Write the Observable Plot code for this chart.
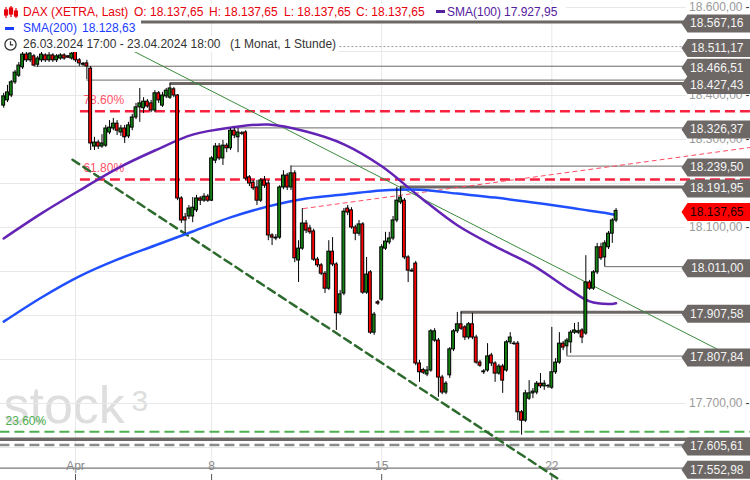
<!DOCTYPE html>
<html><head><meta charset="utf-8">
<script src="https://cdn.jsdelivr.net/npm/d3@7"></script>
<script src="https://cdn.jsdelivr.net/npm/@observablehq/plot@0.6"></script>
<style>
body{margin:0;background:#fff;font-family:"Liberation Sans",Arial,sans-serif;}
#wrap{position:relative;width:750px;height:480px;overflow:hidden;background:#fff}
.hd{position:absolute;left:0;background:#fff;}
.hd span{position:absolute;top:0;font-size:12px;line-height:16px;white-space:nowrap}
.hd svg{position:absolute}
</style></head><body>
<div id="wrap">
  <div id="chart"></div>
  <div class="hd" style="top:4px;width:566px;height:16px">
    <svg style="left:4px;top:1px" width="14" height="14"><g stroke="#e8000b" stroke-width="1.2" fill="#e8000b"><line x1="2" y1="2" x2="2" y2="13"/><rect x="0.5" y="5" width="3" height="5"/><line x1="7" y1="1" x2="7" y2="12"/><rect x="5.5" y="3" width="3" height="6"/><line x1="12" y1="3" x2="12" y2="13"/><rect x="10.5" y="6" width="3" height="5"/></g></svg>
    <span style="left:23px;color:#e8000b">DAX (XETRA, Last)</span>
    <span style="left:134px;color:#e8000b">O: 18.137,65</span>
    <span style="left:209px;color:#e8000b">H: 18.137,65</span>
    <span style="left:284px;color:#e8000b">L: 18.137,65</span>
    <span style="left:356px;color:#e8000b">C: 18.137,65</span>
    <svg style="left:436px;top:6px" width="9" height="4"><rect width="9" height="3" fill="#55209e"/></svg>
    <span style="left:447px;color:#55209e">SMA(100)</span>
    <span style="left:504px;color:#55209e">17.927,95</span>
  </div>
  <div class="hd" style="top:20px;width:141px;height:16px">
    <svg style="left:5px;top:7px" width="9" height="4"><rect width="9" height="3" fill="#1a3cff"/></svg>
    <span style="left:23px;color:#1a3cff">SMA(200)</span>
    <span style="left:82px;color:#1a3cff">18.128,63</span>
  </div>
  <div class="hd" style="top:36px;width:338px;height:16px">
    <svg style="left:3px;top:1px" width="15" height="15"><circle cx="7.5" cy="7.5" r="5.6" fill="none" stroke="#333" stroke-width="1.3"/><path d="M7.5 4.2V7.8H10.2" fill="none" stroke="#333" stroke-width="1.2"/></svg>
    <span style="left:23px;color:#333">26.03.2024 17:00 - 23.04.2024 18:00</span>
    <span style="left:230px;color:#333">(1 Monat, 1 Stunde)</span>
  </div>
</div>
<script>
// ---------- data (hourly candles, index 0 = 26.03.2024 17:00) ----------
const opens = [18377,18389,18400,18430,18445,18464,18493,18480,18489,18470,18480,18491,18480,18491,18480,18484,18491,18489,18484,18502,
18480,18470,18473,18461,18284,18293,18284,18286,18316,18325,18336,18316,18325,18307,18327,18350,18373,18371,18386,18382,
18366,18405,18377,18398,18395,18414,18400,18166,18123,18125,18125,18139,18166,18161,18170,18161,18252,18284,18257,18286,
18280,18320,18305,18314,18316,18214,18202,18191,18161,18207,18200,18082,18077,18077,18191,18218,18191,18223,18025,18052,
18109,18098,18091,18027,18014,17995,17961,18045,18016,17905,17950,18143,18139,18100,18086,18107,17952,17998,17861,17930,
17936,18052,18066,18075,18116,18157,18161,18032,18002,18018,17791,17776,17766,17775,17843,17843,17759,17725,17764,17823,
17864,17880,17873,17850,17880,17850,17793,17771,17775,17809,17791,17768,17784,17775,17839,17836,17836,17680,17661,17711,
17723,17725,17745,17739,17739,17736,17771,17793,17836,17830,17839,17861,17861,17866,17859,17975,17961,17998,18055,18032,
18055,18086,18116];
const highs = [18405,18423,18434,18457,18475,18500,18498,18500,18493,18489,18498,18495,18498,18495,18493,18495,18495,18491,18500,18520,
18484,18475,18480,18466,18305,18298,18311,18332,18343,18348,18343,18332,18332,18339,18357,18382,18416,18395,18391,18389,
18411,18409,18407,18416,18427,18418,18402,18170,18132,18150,18168,18173,18170,18177,18175,18261,18291,18291,18298,18291,
18325,18326,18325,18318,18320,18218,18207,18207,18211,18216,18207,18086,18084,18195,18229,18223,18239.5,18229,18070,18143,
18116,18105,18096,18032,18018,18000,18070,18077,18020,17957,18143,18150,18145,18105,18116,18111,18032,18002,17907,17934,
18061,18089,18089,18125,18191,18192,18166,18036,18007,18023,17798,17780,17784,17868,17870,17848,17764,17750,17827,17868,
17907,17908,17877,17884,17905,17855,17798,17777,17836,17814,17795,17789,17789,17843,17861,17841,17841,17684,17730,17752,
17734,17750,17768,17752,17743,17873,17802,17861,17841,17848,17866,17882,17884,17870,18036,17980,18002,18064,18064,18070,
18091,18120,18143];
const lows = [18371,18384,18395,18425,18441,18459,18475,18475,18466,18464,18475,18475,18475,18475,18475,18480,18480,18484,18480,18475,
18466,18466,18436,18275,18275,18277,18280,18282,18311,18320,18309,18307,18291,18302,18320,18345,18339,18359,18371,18361,
18361,18382,18373,18393,18391,18395,18161,18109,18086,18118,18111,18134,18150,18157,18157,18159,18245,18252,18241,18270,
18275,18302,18270,18309,18207,18193,18184,18150,18157,18189,18070,18059,18070,18073,18186,18184,18184,18020,17975,18048,
18086,18084,18023,18009,17991,17950,17957,18011,17866,17900,17945,18127,18096,18070,18080,17948,17948,17857,17855,17923,
17932,18048,18061,18070,18111,18152,18027,17975,17998,17786,17748,17766,17761,17771,17839,17714,17720,17720,17757,17818,
17859,17866,17843,17845,17845,17789,17782,17766,17771,17784,17748,17764,17723,17771,17834,17832,17661,17628,17657,17707,
17711,17720,17734,17730,17734,17732,17766,17789,17820,17808,17814,17857,17857,17836,17855,17957,17957,17993,18025,18011,
18050,18064,18111];
const closes = [18398,18407,18430,18452,18468,18493,18480,18495,18468,18484,18493,18480,18491,18480,18489,18491,18484,18486,18495,18480,
18473,18472,18466,18291,18293,18284,18291,18325,18327,18336,18320,18325,18305,18332,18350,18373,18382,18386,18375,18366,
18405,18389,18400,18411,18416,18400,18166,18116,18116,18143,18145,18166,18161,18170,18161,18257,18284,18257,18286,18280,
18320,18309,18316,18313,18211,18200,18189,18161,18207,18195,18082,18077,18075,18191,18218,18191,18223,18030,18052,18109,
18093,18089,18027,18014,17995,17961,18045,18016,17905,17948,18136,18134,18100,18086,18107,17952,17993,17861,17902,17927,
18055,18068,18075,18116,18161,18168,18032,18002,18000,17791,17771,17770,17775,17864,17864,17759,17725,17745,17823,17864,
17880,17870,17850,17880,17850,17793,17786,17773,17807,17791,17768,17784,17752,17839,17850,17835,17680,17661,17723,17723,
17727,17745,17739,17745,17740,17771,17793,17836,17827,17843,17861,17866,17864,17850,17975,17961,17998,18055,18030,18064,
18086,18116,18137.65];

// x-axis: first candle of each labelled day
const dayStarts = [19, 55, 100, 145];
const dayLabels = ["Apr", "8", "15", "22"];

// moving averages, read at every 10th candle
const smaIndex = [0,10,20,30,40,50,60,70,80,90,100,110,120,130,140,150,155,160,162];
const sma100 = [18075,18132,18184,18234,18275,18311,18327,18334,18318,18289,18239,18170,18105,18057,18014,17957,17932,17926,17927.95];
const sma200 = [17886,17941,17989,18027,18059,18091,18123,18148,18166,18175,18184,18186,18177,18168,18157,18145,18138,18132,18128.63];

// y-axis: gridlines every 100 points; tick labels not hidden by price tags
const yGrid = [18600,18500,18400,18300,18200,18100,18000,17900,17800,17700,17600];
const yTickLabels = [18600,18400,18300,18100,17700];

// horizontal levels (price) and the candle where each one starts
const thickLevels = [18567.16, 18427.43, 18191.95, 17907.58];
const thickFrom = [-1, 44, 105, 121];
const thinLevels = [18466.51, 18435.00, 18326.37, 18239.50, 18011.00, 17807.84];
const thinFrom = [8, 22, 61, 76, 159, 149];
const dottedLevel = [18511.17];
const supportLevel = [17619];
const dashedLevel = [17605.61];
const baseLevel = [17552.98];
const labelLevels = [18567.16, 18511.17, 18466.51, 18427.43, 18326.37, 18239.50, 18191.95, 18011.00, 17907.58, 17807.84, 17605.61, 17552.98];
const lastPrice = [18137.65];

// Fibonacci retracements
const fibLevels = [18364, 18209];
const fibNames = ["78.60%", "61.80%"];
const fibFrom = 20.3;
const fibGreen = [17636];
const fibGreenName = ["23.60%"];

// trend lines: [candle index, price]
const trendThin = [[25.6, 18539], [189.1, 17822]];
const trendDash = [[18.2, 18254], [150, 17510]];
const trendRed = [[79.3, 18143], [197.6, 18282]];

// ---------- chart ----------
const de = d3.formatLocale({decimal: ",", thousands: ".", grouping: [3], currency: ["", ""]}).format(",.2f");
const candles = opens.map((o, i) => ({i, o, h: highs[i], l: lows[i], c: closes[i], up: closes[i] >= o}));
const rightEdge = 198;
const GRAY = "#6d6866";
const tag = {draw(ctx) {ctx.moveTo(-5, 0); ctx.lineTo(1, -9); ctx.lineTo(64, -9); ctx.lineTo(64, 9); ctx.lineTo(1, 9); ctx.closePath();}};

const chart = Plot.plot({
  width: 750, height: 480,
  marginLeft: 0, marginRight: 64, marginTop: 0, marginBottom: 0,
  x: {domain: [-0.847, 180.63], axis: null},
  y: {domain: [17525, 18615.9], axis: null},
  style: {fontFamily: "Liberation Sans, Arial, sans-serif", fontSize: "12px", background: "#fff"},
  marks: [
    // watermark
    Plot.text(["stock"], {frameAnchor: "bottom-left", dx: 3, dy: -58, text: d => d, fontSize: 52, fill: "#dedede", textAnchor: "start"}),
    Plot.text(["3"], {frameAnchor: "bottom-left", dx: 131, dy: -70, text: d => d, fontSize: 30, fill: "#dedede", textAnchor: "start"}),
    // grid
    Plot.ruleY(yGrid, {y: d => d, stroke: "#e8e8e8"}),
    Plot.ruleX(dayStarts, {x: d => d, stroke: "#e8e8e8", insetBottom: 12}),
    // y tick labels
    Plot.text(yTickLabels, {y: d => d, text: d => de(d), frameAnchor: "right", dx: 56, textAnchor: "end", fill: "#9a9a9a", fontSize: 12}),
    Plot.text(yTickLabels, {y: d => d, text: () => "-", frameAnchor: "right", dx: 59, textAnchor: "start", fill: "#333", fontSize: 12}),
    // x labels & ticks
    Plot.ruleX(dayStarts, {x: d => d, stroke: "#555", insetTop: 474}),
    // levels
    Plot.ruleY(baseLevel, {y: d => d, x1: -1, x2: rightEdge, stroke: "#777", strokeWidth: 1.2}),
    Plot.text(dayStarts, {x: d => d, text: (d, i) => dayLabels[i], frameAnchor: "bottom", dy: -11, fill: "#8a8a8a", fontSize: 12}),
    Plot.ruleY(thinLevels, {y: d => d, x1: (d, i) => thinFrom[i], x2: rightEdge, stroke: GRAY, strokeWidth: 1}),
    Plot.ruleY(thickLevels, {y: d => d, x1: (d, i) => thickFrom[i], x2: rightEdge, stroke: GRAY, strokeWidth: 3}),
    Plot.ruleY(dottedLevel, {y: d => d, x1: -1, x2: rightEdge, stroke: "#999", strokeWidth: 1, strokeDasharray: "2,2"}),
    Plot.ruleY(supportLevel, {y: d => d, x1: -1, x2: rightEdge, stroke: GRAY, strokeWidth: 3.5}),
    Plot.ruleY(dashedLevel, {y: d => d, x1: -1, x2: rightEdge, stroke: "#8c8c8c", strokeWidth: 2.5, strokeDasharray: "10,5"}),
    // fib
    Plot.ruleY(fibLevels, {y: d => d, x1: fibFrom, x2: rightEdge, stroke: "#f7203f", strokeWidth: 2.5, strokeDasharray: "10,5"}),
    Plot.text(fibLevels, {y: d => d, x: fibFrom, text: (d, i) => fibNames[i], dx: 3, dy: -11, textAnchor: "start", fill: "#ff5068", fontSize: 12}),
    Plot.ruleY(fibGreen, {y: d => d, x1: -1, x2: rightEdge, stroke: "#4caf50", strokeWidth: 2, strokeDasharray: "10,5"}),
    Plot.text(fibGreen, {y: d => d, x: -0.847, text: (d, i) => fibGreenName[i], dx: 5, dy: -11, textAnchor: "start", fill: "#4caf50", fontSize: 12}),
    // trend lines
    Plot.line(trendRed, {x: d => d[0], y: d => d[1], stroke: "#ff4a64", strokeWidth: 1, strokeDasharray: "4,4"}),
    Plot.line(trendThin, {x: d => d[0], y: d => d[1], stroke: "#3a8a3a", strokeWidth: 1}),
    Plot.line(trendDash, {x: d => d[0], y: d => d[1], stroke: "#2d6a2d", strokeWidth: 2.5, strokeDasharray: "8,5"}),
    // moving averages
    Plot.line(smaIndex, {x: d => d, y: (d, i) => sma100[i], stroke: "#6324b5", strokeWidth: 2.5, curve: "catmull-rom"}),
    Plot.line(smaIndex, {x: d => d, y: (d, i) => sma200[i], stroke: "#1f4fff", strokeWidth: 2.5, curve: "catmull-rom"}),
    // candles
    Plot.ruleX(candles, {x: "i", y1: "l", y2: "h", stroke: "#000", strokeWidth: 1}),
    Plot.rect(candles, {x1: d => d.i - 0.38, x2: d => d.i + 0.38, y1: "o", y2: "c", fill: d => d.up ? "#138213" : "#ff0000", stroke: "#000", strokeWidth: 1}),
    // price tags
    Plot.dot(labelLevels, {y: d => d, frameAnchor: "right", dy: 1.5, symbol: tag, fill: GRAY}),
    Plot.text(labelLevels, {y: d => d, text: d => de(d), frameAnchor: "right", dx: 57, dy: 1.5, textAnchor: "end", fill: "#f4f4f4", fontSize: 12}),
    Plot.dot(lastPrice, {y: d => d, frameAnchor: "right", dy: 1, symbol: tag, fill: "#ff0000"}),
    Plot.text(lastPrice, {y: d => d, text: d => de(d), frameAnchor: "right", dx: 57, dy: 1, textAnchor: "end", fill: "#1a0000", fontSize: 12})
  ]
});
document.getElementById("chart").appendChild(chart);
</script>
</body></html>
